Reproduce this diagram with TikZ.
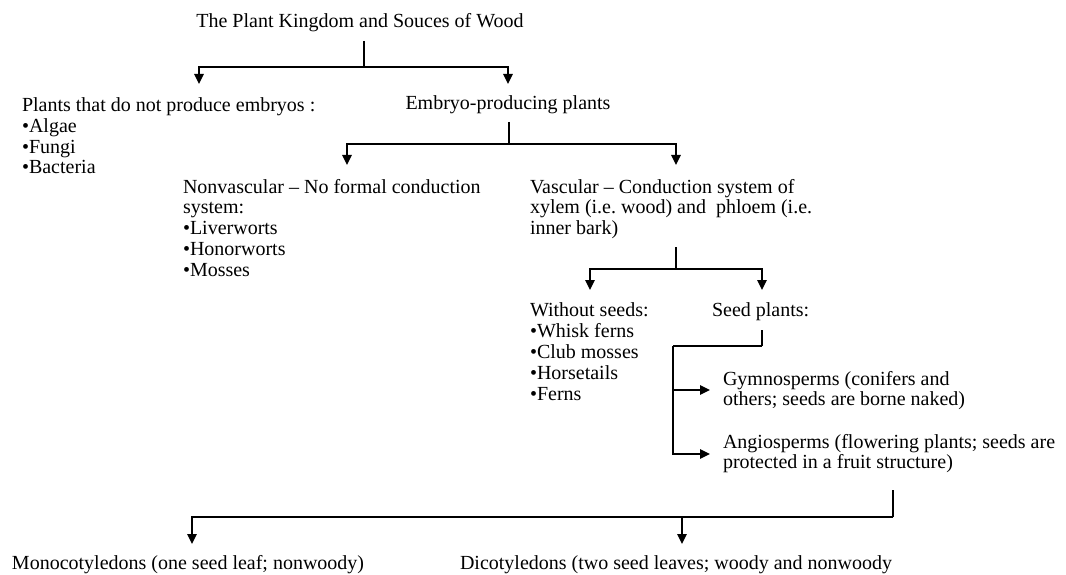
\documentclass[tikz,border=0pt]{standalone}
\usepackage{fontspec}
\setmainfont{Liberation Serif}
\usetikzlibrary{arrows.meta}
\begin{document}
\begin{tikzpicture}[x=1pt,y=-1pt,
  lbl/.style={inner sep=0pt, outer sep=0pt, font=\fontsize{20}{20.8}\selectfont},
  blk/.style={lbl, align=left, anchor=north west},
  stem/.style={line width=2pt},
  thinstem/.style={line width=1.4pt},
  plain/.style={line width=1.4pt},
  conn/.style={line width=1.4pt, -{Triangle[width=9.5pt,length=10pt]}}]
\useasboundingbox (0,0) rectangle (1066,575);
% text nodes
\node[lbl] (title) at (360,23) {The Plant Kingdom and Souces of Wood};
\node[blk] (noemb) at (22,97.6) {Plants that do not produce embryos :\\•Algae\\•Fungi\\•Bacteria};
\node[lbl] (emb) at (508,105) {Embryo-producing plants};
\node[blk] (nonv) at (183,179) {Nonvascular – No formal conduction\\system:\\•Liverworts\\•Honorworts\\•Mosses};
\node[blk] (vasc) at (530,179) {Vascular – Conduction system of\\xylem (i.e.\ wood) and\ \ phloem (i.e.\\inner bark)};
\node[blk] (wos) at (530,303) {Without seeds:\\•Whisk ferns\\•Club mosses\\•Horsetails\\•Ferns};
\node[lbl, anchor=west] (seed) at (712,312) {Seed plants:};
\node[blk] (gym) at (723,371) {Gymnosperms (conifers and\\others; seeds are borne naked)};
\node[blk] (ang) at (723,434) {Angiosperms (flowering plants; seeds are\\protected in a fruit structure)};
\node[lbl, anchor=west] (mono) at (12,565) {Monocotyledons (one seed leaf; nonwoody)};
\node[lbl, anchor=west] (dico) at (460,565) {Dicotyledons (two seed leaves; woody and nonwoody};
% junction coordinates
\coordinate (s1) at (364,41);  \coordinate (j1) at (364,67);
\coordinate (a1) at (199,84);  \coordinate (a2) at (508,84);
\coordinate (s2) at (509,122); \coordinate (j2) at (509,144);
\coordinate (a3) at (347,165); \coordinate (a4) at (676,165);
\coordinate (s3) at (676,247); \coordinate (j3) at (676,269);
\coordinate (a5) at (590,290); \coordinate (a6) at (762,290);
\coordinate (s4) at (762,330); \coordinate (j4) at (762,346);
\coordinate (j5) at (673,346);
\coordinate (a7) at (710,390); \coordinate (a8) at (710,454);
\coordinate (s5) at (893,490); \coordinate (j6) at (893,517);
\coordinate (a9) at (192,544); \coordinate (a10) at (682,544);
% connectors
\draw[stem] (s1) -- (j1);
\draw[conn] (j1) -| (a1);
\draw[conn] (j1) -| (a2);
\draw[thinstem] (s2) -- (j2);
\draw[conn] (j2) -| (a3);
\draw[conn] (j2) -| (a4);
\draw[stem] (s3) -- (j3);
\draw[conn] (j3) -| (a5);
\draw[conn] (j3) -| (a6);
\draw[stem] (s4) -- (j4);
\draw[plain] (j4) -- (j5);
\draw[conn] (j5) |- (a7);
\draw[conn] (j5) |- (a8);
\draw[stem] (s5) -- (j6);
\draw[conn] (j6) -| (a9);
\draw[conn] (j6) -| (a10);
\end{tikzpicture}
\end{document}
